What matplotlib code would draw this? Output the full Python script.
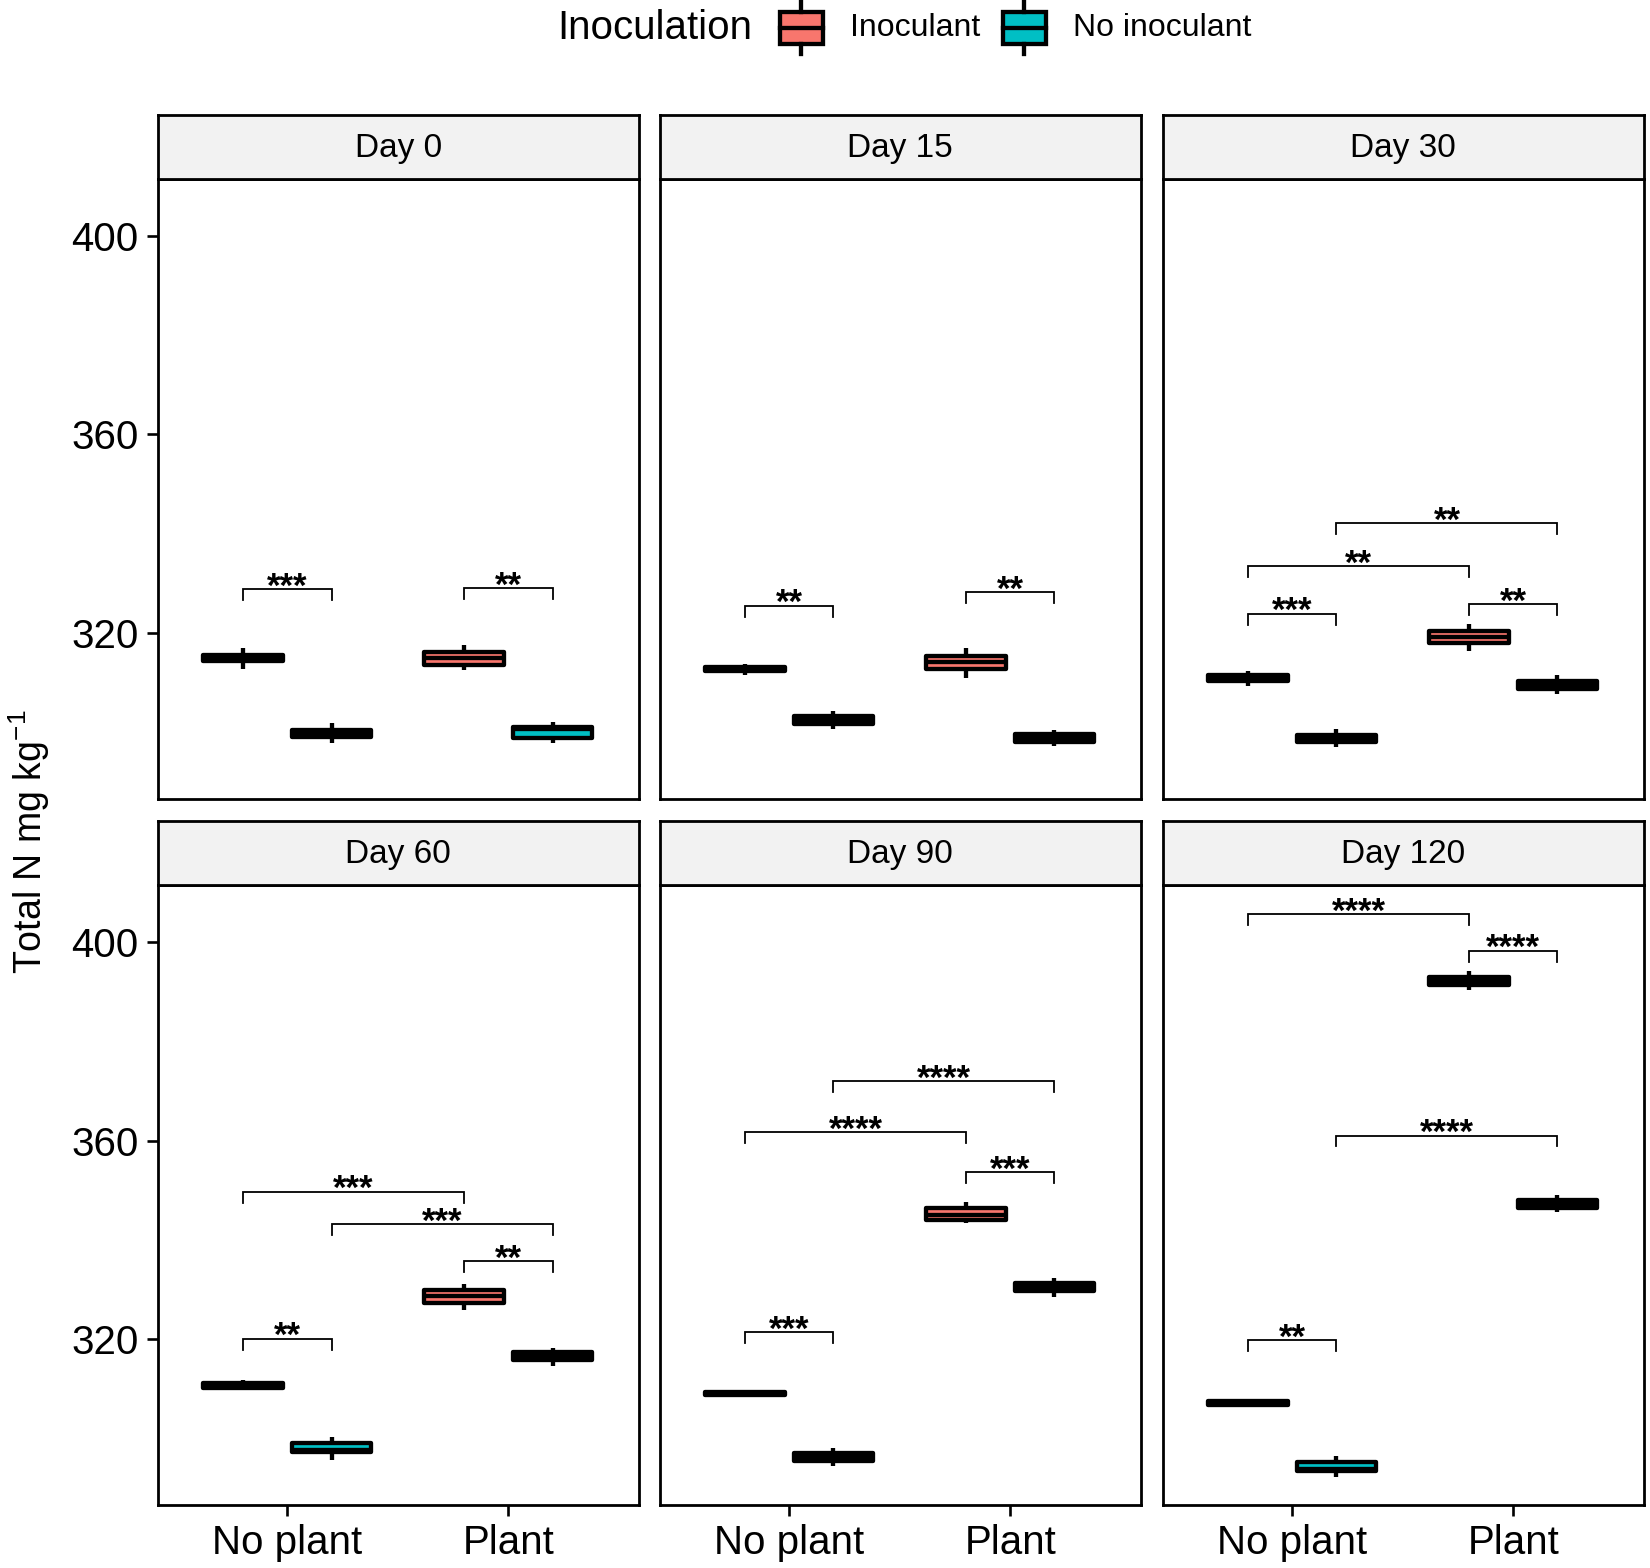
import matplotlib
matplotlib.use('Agg')
import matplotlib.pyplot as plt
from matplotlib.patches import Rectangle
from matplotlib.lines import Line2D

plt.rcParams['font.family'] = ['Liberation Sans', 'DejaVu Sans']
plt.rcParams['mathtext.fontset'] = 'custom'
plt.rcParams['mathtext.rm'] = 'Liberation Sans'
plt.rcParams['mathtext.it'] = 'Liberation Sans:italic'

# ---------------- data ----------------
days = ['Day 0', 'Day 15', 'Day 30', 'Day 60', 'Day 90', 'Day 120']
plant_levels = ['No plant', 'Plant']
inoc_levels = ['Inoculant', 'No inoculant']
inoc_colors = ['#F8766D', '#00BFC4']

# group order within each day: [No plant/Inoculant, No plant/No inoculant, Plant/Inoculant, Plant/No inoculant]
medians = [
    [315.1, 299.9, 315.1, 300.8],
    [312.8, 302.6, 314.3, 299.0],
    [310.9, 298.8, 319.2, 309.5],
    [310.8, 297.7, 328.7, 316.6],
    [309.2, 296.3, 345.0, 330.5],
    [307.1, 294.0, 392.1, 347.3],
]
q1s = [
    [314.5, 299.2, 313.7, 299.0],
    [312.3, 301.8, 312.8, 298.2],
    [310.3, 298.1, 318.0, 308.7],
    [310.3, 297.3, 327.4, 315.8],
    [308.9, 295.5, 344.1, 329.7],
    [306.7, 293.6, 391.3, 346.5],
]
q3s = [
    [315.7, 300.6, 316.3, 301.2],
    [313.3, 303.4, 315.4, 299.8],
    [311.5, 299.5, 320.4, 310.3],
    [311.3, 299.2, 329.9, 317.4],
    [309.5, 297.1, 346.5, 331.3],
    [307.5, 295.4, 392.9, 348.1],
]
whislo = [
    [312.8, 298.0, 312.5, 298.0],
    [311.5, 300.7, 310.9, 297.4],
    [309.3, 297.1, 316.4, 307.7],
    [309.8, 295.7, 325.9, 314.7],
    [308.8, 294.5, 343.4, 328.5],
    [306.5, 292.3, 390.3, 345.6],
]
whishi = [
    [317.0, 302.0, 317.7, 302.2],
    [313.9, 304.3, 317.0, 300.5],
    [312.3, 300.7, 321.8, 311.5],
    [311.8, 300.4, 331.1, 318.3],
    [309.6, 298.1, 347.7, 332.4],
    [307.6, 296.5, 394.1, 349.0],
]

# significance brackets per day: (group a, group b, y, label)
brackets = [
    [(0, 1, 328.8, '***'), (2, 3, 329.0, '**')],
    [(0, 1, 325.5, '**'), (2, 3, 328.3, '**')],
    [(0, 1, 323.9, '***'), (2, 3, 325.8, '**'), (0, 2, 333.5, '**'), (1, 3, 342.1, '**')],
    [(0, 1, 320.1, '**'), (2, 3, 335.7, '**'), (1, 3, 343.2, '***'), (0, 2, 349.7, '***')],
    [(0, 1, 321.4, '***'), (2, 3, 353.6, '***'), (0, 2, 361.7, '****'), (1, 3, 371.9, '****')],
    [(0, 1, 319.8, '**'), (2, 3, 398.2, '****'), (0, 2, 405.5, '****'), (1, 3, 361.0, '****')],
]

yticks = [320, 360, 400]

# ---------------- layout ----------------
W, H = 1568.0, 1490.0
fig = plt.figure(figsize=(16.5, 15.68), dpi=100)
fig.patch.set_facecolor('white')

col_left = [150, 627, 1105]
panel_w = 457
row_top = [170, 841]      # top of panel (below strip)
row_bot = [759, 1430]
strip_h = 61

ylim = (286.7, 411.4)
xlim = (0.414, 2.59)
dodge = 0.4
box_w = 0.36
tip = 2.2
box_lw = 3.1

def gx(g):
    p, i = divmod(g, 2)
    return p + 1 + (i - 0.5) * dodge

for d, day in enumerate(days):
    r, c = divmod(d, 3)
    l = col_left[c] / W
    b = 1 - row_bot[r] / H
    h = (row_bot[r] - row_top[r]) / H
    w = panel_w / W
    ax = fig.add_axes([l, b, w, h])
    stats = []
    for g in range(4):
        stats.append(dict(med=medians[d][g], q1=q1s[d][g], q3=q3s[d][g],
                          whislo=whislo[d][g], whishi=whishi[d][g], fliers=[]))
    bp = ax.bxp(stats, positions=[gx(g) for g in range(4)], widths=box_w,
                patch_artist=True, showcaps=False, showfliers=False,
                boxprops=dict(edgecolor='black', linewidth=box_lw, joinstyle='round'),
                medianprops=dict(color='black', linewidth=box_lw, solid_capstyle='butt'),
                whiskerprops=dict(color='black', linewidth=box_lw, solid_capstyle='butt'),
                manage_ticks=False)
    for g, patch in enumerate(bp['boxes']):
        patch.set_facecolor(inoc_colors[g % 2])
    for (ga, gb, yv, lab) in brackets[d]:
        xa, xb = gx(ga), gx(gb)
        ax.plot([xa, xa, xb, xb], [yv - tip, yv, yv, yv - tip], color='black',
                lw=1.3, solid_joinstyle='miter')
        ax.text((xa + xb) / 2, yv - 1.5, lab, ha='center', va='baseline',
                fontsize=25, fontweight='bold', color='black')
    ax.set_xlim(*xlim)
    ax.set_ylim(*ylim)
    for s in ax.spines.values():
        s.set_linewidth(2.0)
        s.set_color('black')
    ax.set_yticks(yticks)
    ax.set_xticks([1, 2])
    ax.tick_params(axis='both', length=8, width=1.9, color='black',
                   labelsize=29, labelcolor='black', pad=6)
    if c == 0:
        ax.set_yticklabels([str(t) for t in yticks])
    else:
        ax.tick_params(axis='y', length=0, labelleft=False)
    if r == 1:
        ax.set_xticklabels(plant_levels)
    else:
        ax.tick_params(axis='x', length=0, labelbottom=False)

    # strip
    sax = fig.add_axes([l, 1 - (row_top[r]) / H, w, strip_h / H])
    sax.set_facecolor('#F2F2F2')
    sax.set_xticks([])
    sax.set_yticks([])
    for s in sax.spines.values():
        s.set_linewidth(2.0)
        s.set_color('black')
    sax.text(0.5, 0.47, day, ha='center', va='center', fontsize=24,
             transform=sax.transAxes, color='black')

# y label
fig.text(28 / W, 1 - 800 / H, r'Total N mg kg$^{-1}$', rotation=90,
         ha='center', va='center', fontsize=27, color='black')

# legend (drawn in overlay, positions in px)
lax = fig.add_axes([0, 0, 1, 1], zorder=5)
lax.set_xlim(0, W)
lax.set_ylim(H, 0)
lax.axis('off')
lax.text(530, 27, 'Inoculation', ha='left', va='center', fontsize=29, color='black')
key_x = [741, 953]
for i, lab in enumerate(inoc_levels):
    x0 = key_x[i]
    xc = x0 + 20.5
    lax.add_line(Line2D([xc, xc], [2, 11], color='black', lw=box_lw))
    lax.add_line(Line2D([xc, xc], [42, 51], color='black', lw=box_lw))
    lax.add_patch(Rectangle((x0, 11), 41, 31, facecolor=inoc_colors[i],
                            edgecolor='black', lw=box_lw))
    lax.add_line(Line2D([x0, x0 + 41], [26.5, 26.5], color='black', lw=box_lw))
    lax.text(x0 + 67, 27, lab, ha='left', va='center', fontsize=23, color='black')

fig.savefig('out.png', dpi=100, facecolor='white')
